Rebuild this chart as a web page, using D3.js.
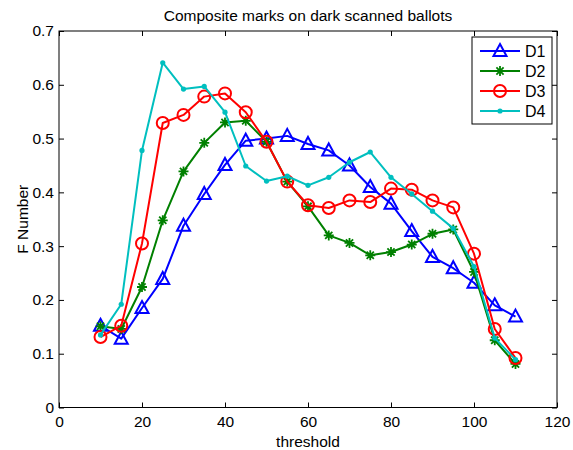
<!DOCTYPE html>
<html>
<head>
<meta charset="utf-8">
<script src="https://d3js.org/d3.v7.min.js"></script>
<style>
  body { margin: 0; background: #fff; }
  text { font-family: "Liberation Sans", Arial, sans-serif; fill: #000; }
</style>
</head>
<body>
<div id="chart"></div>
<script>
// thresholds on the x axis
const thresholds = [10, 15, 20, 25, 30, 35, 40, 45, 50, 55, 60, 65, 70, 75, 80, 85, 90, 95, 100, 105, 110];

// F number per series
const d1 = [0.152, 0.128, 0.185, 0.239, 0.338, 0.397, 0.451, 0.496, 0.500, 0.505, 0.490, 0.478, 0.450, 0.410, 0.379, 0.328, 0.280, 0.259, 0.232, 0.190, 0.169];
const d2 = [0.151, 0.146, 0.224, 0.348, 0.439, 0.492, 0.530, 0.533, 0.494, 0.420, 0.374, 0.320, 0.306, 0.283, 0.289, 0.303, 0.323, 0.331, 0.252, 0.125, 0.081];
const d3v = [0.131, 0.152, 0.305, 0.529, 0.544, 0.578, 0.584, 0.549, 0.494, 0.420, 0.376, 0.371, 0.385, 0.382, 0.407, 0.405, 0.385, 0.372, 0.286, 0.146, 0.092];
const d4 = [0.135, 0.192, 0.478, 0.641, 0.592, 0.597, 0.549, 0.449, 0.421, 0.430, 0.413, 0.428, 0.456, 0.475, 0.428, 0.397, 0.365, 0.333, 0.262, 0.129, 0.089];

const seriesNames = ["D1", "D2", "D3", "D4"];
const xTicks = [0, 20, 40, 60, 80, 100, 120];
const yTicks = [0, 0.1, 0.2, 0.3, 0.4, 0.5, 0.6, 0.7];

const colors = {D1: "#0000ff", D2: "#008000", D3: "#ff0000", D4: "#00bfbf"};
const shapes = {D1: "triangle", D2: "star", D3: "circle", D4: "dot"};

const W = 573, H = 450;
const margin = {top: 31, right: 16, bottom: 42.5, left: 59};
const width = W - margin.left - margin.right;
const height = H - margin.top - margin.bottom;
const fontSize = "15.5px";

const svg = d3.select("#chart").append("svg")
    .attr("width", W)
    .attr("height", H);

const g = svg.append("g")
    .attr("transform", `translate(${margin.left},${margin.top})`);

const x = d3.scaleLinear().domain([0, 120]).range([0, width]);
const y = d3.scaleLinear().domain([0, 0.7]).range([height, 0]);

// wrangle into series objects
const allSeries = [d1, d2, d3v, d4].map((vals, i) => ({
    name: seriesNames[i],
    values: thresholds.map((t, j) => ({t: t, v: vals[j]}))
}));

// axes with inward ticks on all sides (matlab box look)
const tickLen = 5;
g.append("g")
    .attr("transform", `translate(0,${height})`)
    .call(d3.axisBottom(x).tickValues(xTicks).tickSizeInner(-tickLen).tickSizeOuter(0).tickPadding(8));
g.append("g")
    .call(d3.axisTop(x).tickValues(xTicks).tickSizeInner(-tickLen).tickSizeOuter(0).tickFormat(""));
g.append("g")
    .call(d3.axisLeft(y).tickValues(yTicks).tickSizeInner(-tickLen).tickSizeOuter(0).tickPadding(5).tickFormat(d => d === 0 ? "0" : d3.format(".1f")(d)));
g.append("g")
    .attr("transform", `translate(${width},0)`)
    .call(d3.axisRight(y).tickValues(yTicks).tickSizeInner(-tickLen).tickSizeOuter(0).tickFormat(""));

g.selectAll(".domain").remove();
g.selectAll(".tick line").attr("stroke", "#000");
g.selectAll(".tick text").style("font-size", fontSize).style("font-family", "Liberation Sans, Arial, sans-serif");

g.append("rect")
    .attr("width", width)
    .attr("height", height)
    .attr("fill", "none")
    .attr("stroke", "#000")
    .attr("stroke-width", 1);

// marker drawing
function drawMarker(sel, shape, color) {
    if (shape === "triangle") {
        sel.append("path")
            .attr("d", "M0,-7 L6.5,5 L-6.5,5 Z")
            .attr("fill", "none").attr("stroke", color).attr("stroke-width", 2);
    } else if (shape === "circle") {
        sel.append("circle")
            .attr("r", 6)
            .attr("fill", "none").attr("stroke", color).attr("stroke-width", 2);
    } else if (shape === "dot") {
        sel.append("circle")
            .attr("r", 2.6)
            .attr("fill", color);
    } else {
        const s = 5, k = 3.6;
        sel.append("path")
            .attr("d", `M${-s},0L${s},0M0,${-s}L0,${s}M${-k},${-k}L${k},${k}M${-k},${k}L${k},${-k}`)
            .attr("fill", "none").attr("stroke", color).attr("stroke-width", 1.8);
    }
}

const line = d3.line().x(d => x(d.t)).y(d => y(d.v));

allSeries.forEach(s => {
    const col = colors[s.name];
    const sg = g.append("g").attr("class", "series");
    sg.append("path")
        .datum(s.values)
        .attr("d", line)
        .attr("fill", "none")
        .attr("stroke", col)
        .attr("stroke-width", 2)
        .attr("stroke-linejoin", "round");
    sg.selectAll("g.mark")
        .data(s.values)
        .enter()
        .append("g")
        .attr("class", "mark")
        .attr("transform", d => `translate(${x(d.t)},${y(d.v)})`)
        .each(function() { drawMarker(d3.select(this), shapes[s.name], col); });
});

// legend
const lg = g.append("g").attr("transform", `translate(${x(120) - 85},6)`);
lg.append("rect")
    .attr("width", 80)
    .attr("height", 87)
    .attr("fill", "#fff")
    .attr("stroke", "#000")
    .attr("stroke-width", 1);
seriesNames.forEach((name, i) => {
    const row = lg.append("g").attr("transform", `translate(0,${14 + i * 20})`);
    row.append("line")
        .attr("x1", 8).attr("x2", 48)
        .attr("stroke", colors[name]).attr("stroke-width", 2);
    drawMarker(row.append("g").attr("transform", "translate(28,0)"), shapes[name], colors[name]);
    row.append("text")
        .attr("x", 53)
        .attr("y", 5.5)
        .style("font-size", "16px")
        .text(name);
});

// titles
svg.append("text")
    .attr("x", margin.left + width / 2)
    .attr("y", 20.5)
    .attr("text-anchor", "middle")
    .style("font-size", fontSize)
    .text("Composite marks on dark scanned ballots");

svg.append("text")
    .attr("x", margin.left + width / 2)
    .attr("y", 447)
    .attr("text-anchor", "middle")
    .style("font-size", fontSize)
    .text("threshold");

svg.append("text")
    .attr("transform", `translate(28,${margin.top + height / 2}) rotate(-90)`)
    .attr("text-anchor", "middle")
    .style("font-size", fontSize)
    .text("F Number");
</script>
</body>
</html>
